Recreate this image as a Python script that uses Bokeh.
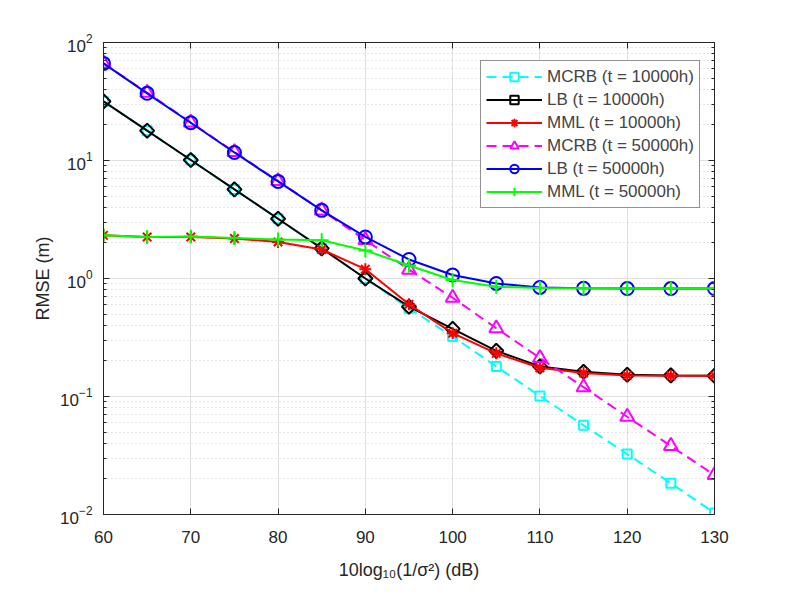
from bokeh.plotting import figure
from bokeh.models import LinearAxis, LogAxis, FixedTicker, LogTickFormatter
from bokeh.embed import file_html
from bokeh.resources import INLINE

# values
snr_db = [60, 65, 70, 75, 80, 85, 90, 95, 100, 105, 110, 115, 120, 125, 130]

mcrb_10k = [31.7, 17.9, 10.1, 5.69, 3.21, 1.80, 1.00, 0.56, 0.322, 0.180, 0.101, 0.057, 0.0325, 0.0184, 0.0103]
lb_10k = [31.7, 17.9, 10.1, 5.69, 3.21, 1.80, 1.00, 0.577, 0.374, 0.244, 0.180, 0.162, 0.153, 0.151, 0.150]
mml_10k = [2.32, 2.25, 2.25, 2.18, 2.04, 1.76, 1.20, 0.604, 0.344, 0.232, 0.175, 0.158, 0.151, 0.150, 0.150]
mcrb_50k = [66.5, 37.5, 21.0, 11.8, 6.7, 3.78, 2.12, 1.19, 0.687, 0.379, 0.212, 0.120, 0.0674, 0.0381, 0.0216]
lb_50k = [66.5, 37.1, 20.9, 11.7, 6.65, 3.78, 2.25, 1.45, 1.07, 0.908, 0.840, 0.825, 0.822, 0.822, 0.822]
mml_50k = [2.32, 2.25, 2.27, 2.20, 2.14, 2.11, 1.73, 1.29, 0.97, 0.85, 0.832, 0.826, 0.824, 0.824, 0.824]

x_ticks = [60, 70, 80, 90, 100, 110, 120, 130]
y_ticks = [1e-2, 1e-1, 1, 10, 100]

AXIS_COLOR = "#262626"
FONT = "Liberation Sans"

p = figure(width=773, height=582, y_axis_type="log", x_range=(60, 130), y_range=(1e-2, 1e2),
           output_backend="svg", toolbar_location=None,
           min_border_left=103, min_border_right=59, min_border_top=42, min_border_bottom=66)
p.background_fill_color = "white"
p.border_fill_color = "white"
p.outline_line_color = AXIS_COLOR

# label, values, color, marker, size, angle, dash
series = [
    ("MCRB (t = 10000h)", mcrb_10k, "#00FFFF", "square", 9, 0, "10 6"),
    ("LB (t = 10000h)", lb_10k, "#000000", "square", 10, 0.785398, "solid"),
    ("MML (t = 10000h)", mml_10k, "#FF0000", "asterisk", 12, 0, "solid"),
    ("MCRB (t = 50000h)", mcrb_50k, "#FF00FF", "triangle", 14, 0, "10 6"),
    ("LB (t = 50000h)", lb_50k, "#0000FF", "circle", 13, 0, "solid"),
    ("MML (t = 50000h)", mml_50k, "#00FF00", "cross", 14, 0, "solid"),
]

for label, vals, color, marker, size, ang, dash in series:
    p.line(snr_db, vals, line_color=color, line_width=2, line_dash=dash, legend_label=label)
    p.scatter(snr_db, vals, marker=marker, size=size, angle=ang, line_color=color, line_width=2,
              fill_color=None, legend_label=label)

# box axes like matlab
p.add_layout(LinearAxis(major_label_text_color=None), "above")
p.add_layout(LogAxis(major_label_text_color=None), "right")

minor = [k * d for d in [1e-2, 1e-1, 1, 10] for k in range(2, 10)]
yticker = FixedTicker(ticks=y_ticks, minor_ticks=minor)
xticker = FixedTicker(ticks=x_ticks, minor_ticks=[])

for ax in p.xaxis:
    ax.ticker = xticker
for ax in p.yaxis:
    ax.ticker = yticker
    ax.formatter = LogTickFormatter()

for ax in p.xaxis + p.yaxis:
    ax.axis_line_color = AXIS_COLOR
    ax.major_tick_line_color = AXIS_COLOR
    ax.minor_tick_line_color = AXIS_COLOR
    ax.major_tick_in = 6
    ax.major_tick_out = 0
    ax.minor_tick_in = 3
    ax.minor_tick_out = 0
    ax.major_label_text_font = FONT
    ax.major_label_text_font_size = "17px"
    ax.axis_label_text_font = FONT
    ax.axis_label_text_font_size = "18px"
    ax.axis_label_text_font_style = "normal"
    ax.axis_label_text_color = AXIS_COLOR

xbottom = p.below[0]
yleft = p.left[0]
xbottom.axis_label = "10log\u2081\u2080(1/\u03c3\u00b2) (dB)"
xbottom.major_label_text_color = AXIS_COLOR
xbottom.major_label_standoff = 16
xbottom.axis_label_standoff = 14
yleft.axis_label = "RMSE (m)"
yleft.major_label_text_color = AXIS_COLOR
yleft.major_label_standoff = 11
yleft.axis_label_standoff = 4

p.xgrid.ticker = xticker
p.ygrid.ticker = yticker
p.grid.grid_line_color = "#e0e0e0"
p.grid.grid_line_width = 1
p.ygrid.minor_grid_line_color = "#cccccc"
p.ygrid.minor_grid_line_dash = "1 3"

leg = p.legend[0]
leg.location = (377, 306)
leg.label_text_font = FONT
leg.label_text_font_size = "17px"
leg.label_height = 21
leg.glyph_height = 21
leg.glyph_width = 56
leg.spacing = 2
leg.padding = 5
leg.margin = 0
leg.label_standoff = 5
leg.border_line_color = AXIS_COLOR
leg.border_line_width = 1
leg.background_fill_alpha = 1

open("out.html", "w").write(file_html(p, INLINE))
